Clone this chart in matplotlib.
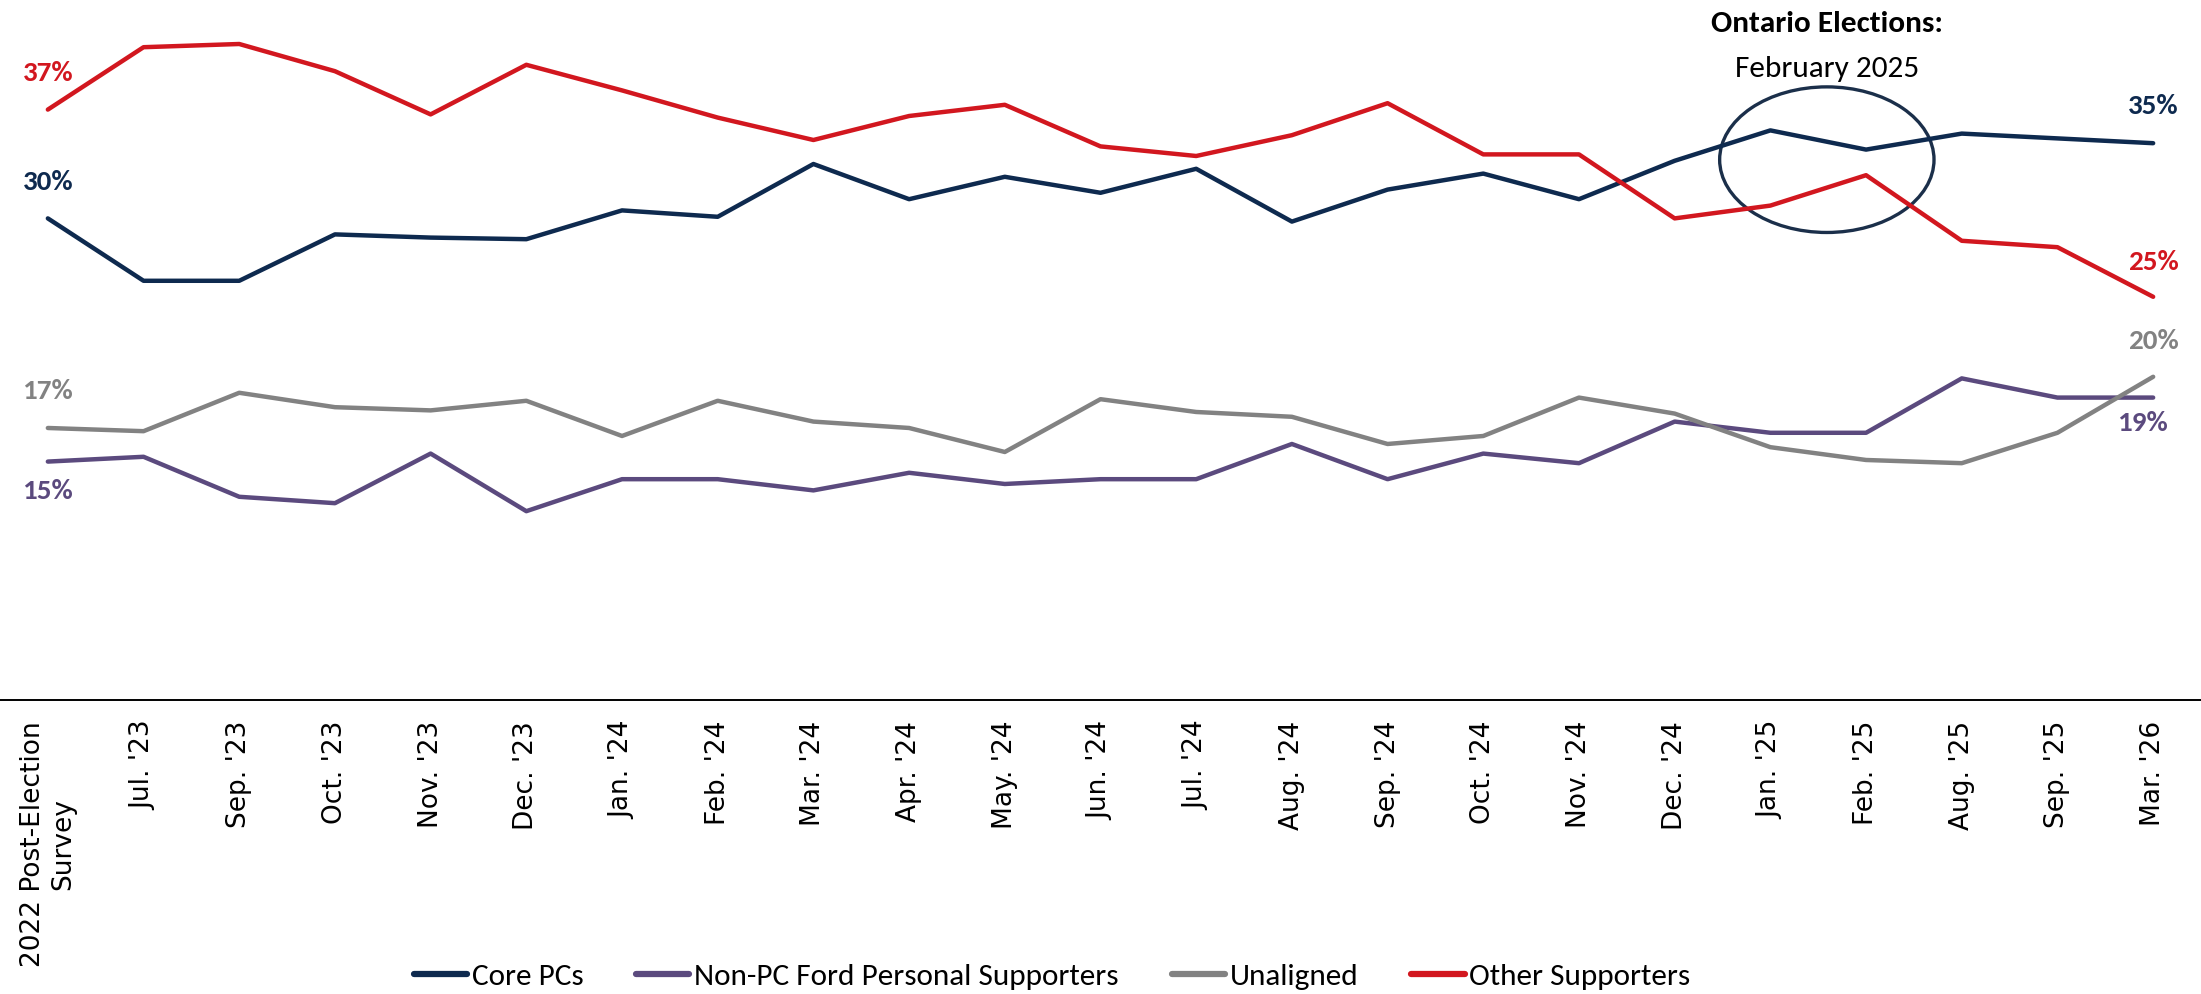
import matplotlib
matplotlib.use("Agg")
import matplotlib.pyplot as plt
import matplotlib.font_manager as fm
from matplotlib.patches import Ellipse

categories = ["2022 Post-Election\nSurvey", "Jul. '23", "Sep. '23", "Oct. '23", "Nov. '23",
              "Dec. '23", "Jan. '24", "Feb. '24", "Mar. '24", "Apr. '24", "May. '24",
              "Jun. '24", "Jul. '24", "Aug. '24", "Sep. '24", "Oct. '24", "Nov. '24",
              "Dec. '24", "Jan. '25", "Feb. '25", "Aug. '25", "Sep. '25", "Mar. '26"]

core_pcs = [30.1, 26.2, 26.2, 29.1, 28.9, 28.8, 30.6, 30.2, 33.5, 31.3, 32.7, 31.7,
            33.2, 29.9, 31.9, 32.9, 31.3, 33.7, 35.6, 34.4, 35.4, 35.1, 34.8]
non_pc_ford = [14.9, 15.2, 12.7, 12.3, 15.4, 11.8, 13.8, 13.8, 13.1, 14.2, 13.5, 13.8,
               13.8, 16.0, 13.8, 15.4, 14.8, 17.4, 16.7, 16.7, 20.1, 18.9, 18.9]
unaligned = [17.0, 16.8, 19.2, 18.3, 18.1, 18.7, 16.5, 18.7, 17.4, 17.0, 15.5, 18.8,
             18.0, 17.7, 16.0, 16.5, 18.9, 17.9, 15.8, 15.0, 14.8, 16.7, 20.2]
other = [36.9, 40.8, 41.0, 39.3, 36.6, 39.7, 38.1, 36.4, 35.0, 36.5, 37.2, 34.6,
         34.0, 35.3, 37.3, 34.1, 34.1, 30.1, 30.9, 32.8, 28.7, 28.3, 25.2]

series = [
    ("Core PCs", core_pcs, "#0e2a4f"),
    ("Non-PC Ford Personal Supporters", non_pc_ford, "#5b4a7e"),
    ("Unaligned", unaligned, "#828282"),
    ("Other Supporters", other, "#d2171f"),
]

# pick a Calibri-like font if one is installed
installed = {f.name for f in fm.fontManager.ttflist}
label_font = next((n for n in ["Carlito", "Liberation Sans Narrow", "Open Sans"] if n in installed),
                  "DejaVu Sans")

fig = plt.figure(figsize=(22.01, 9.94), dpi=100)
ax = fig.add_axes([0, 0.2958, 1, 0.7042])

x = list(range(len(categories)))
for name, vals, col in series:
    ax.plot(x, vals, color=col, lw=3.2, label=name, solid_capstyle="round", solid_joinstyle="round")

# end labels: (offset in px from point) first, last
offsets = {
    "Core PCs": ((0, 36), (0, 37)),
    "Non-PC Ford Personal Supporters": ((0, -29), (-11, -25)),
    "Unaligned": ((0, 37), (0, 36)),
    "Other Supporters": ((0, 37), (0, 35)),
}
for name, vals, col in series:
    for idx, off in zip([0, -1], offsets[name]):
        ax.annotate(f"{round(vals[idx])}%", (x[idx], vals[idx]), xytext=off,
                    textcoords="offset pixels", ha="center", va="center",
                    fontsize=21, fontweight="bold", color=col, family=label_font)

# election marker
ax.add_patch(Ellipse((18.59, 33.77), 2.24, 9.1, fill=False, ec="#1b2f4a", lw=2.4))
ax.text(18.59, 41.75, "Ontario Elections:", ha="center", va="baseline",
        fontsize=22.5, fontweight="bold", family=label_font)
ax.text(18.59, 38.95, "February 2025", ha="center", va="baseline",
        fontsize=22.5, family=label_font)

ax.set_xlim(-0.5, 22.5)
ax.set_ylim(0, 43.75)
ax.set_xticks(x)
ax.set_xticklabels(categories, rotation=90, fontsize=19, family="DejaVu Sans")
ax.tick_params(axis="x", length=0, pad=15)
ax.set_yticks([])
for s in ["top", "left", "right"]:
    ax.spines[s].set_visible(False)
ax.spines["bottom"].set_linewidth(1.4)
ax.spines["bottom"].set_color("black")

fig.legend(loc="center", bbox_to_anchor=(0.478, 0.018), ncol=4, frameon=False,
           prop={"family": label_font, "size": 22.5}, handlelength=1.7,
           handletextpad=0.15, columnspacing=1.7, borderaxespad=0)
for h in fig.legends[0].get_lines():
    h.set_linewidth(4.5)

fig.savefig("out.png", dpi=100)
